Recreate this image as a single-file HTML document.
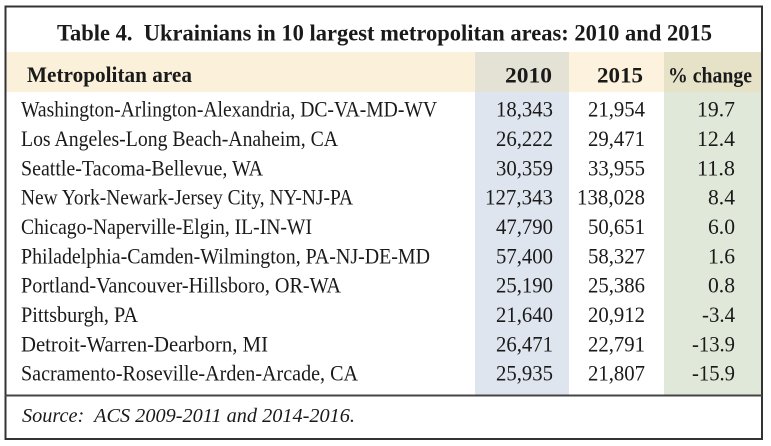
<!DOCTYPE html>
<html>
<head>
<meta charset="utf-8">
<style>
html,body{margin:0;padding:0;background:#fff;}
svg{display:block;}
text{font-family:"Liberation Serif",serif;fill:#1a1a1a;}
.b{font-weight:bold;}
.r{font-size:22px;}
.n{font-size:22px;text-anchor:end;}
</style>
</head>
<body>
<svg width="771" height="446" viewBox="0 0 771 446" xmlns="http://www.w3.org/2000/svg">
  <rect x="0" y="0" width="771" height="446" fill="#fff"/>
  <!-- header band -->
  <rect x="6" y="52" width="756" height="40" fill="#fbf0da"/>
  <rect x="475" y="52" width="94" height="40" fill="#e4e1d5"/>
  <rect x="569" y="52" width="95" height="40" fill="#fcf2de"/>
  <rect x="664" y="52" width="98" height="40" fill="#e5e2c8"/>
  <!-- data column bgs -->
  <rect x="475" y="92" width="94" height="303" fill="#dfe5ee"/>
  <rect x="664" y="92" width="98" height="303" fill="#e0e8d9"/>
  <!-- borders -->
  <rect x="5.5" y="6.5" width="756.5" height="432.5" fill="none" stroke="#333" stroke-width="2"/>
  <line x1="5" y1="395.5" x2="762" y2="395.5" stroke="#444" stroke-width="2"/>

  <!-- title -->
  <text class="b" x="57" y="40.5" font-size="23.5" textLength="655" lengthAdjust="spacingAndGlyphs">Table 4.&#160; Ukrainians in 10 largest metropolitan areas: 2010 and 2015</text>

  <!-- header -->
  <text class="b" x="27" y="82" font-size="22" textLength="165" lengthAdjust="spacingAndGlyphs">Metropolitan area</text>
  <text class="b" x="505" y="82.5" font-size="22" textLength="47" lengthAdjust="spacingAndGlyphs">2010</text>
  <text class="b" x="597" y="82.5" font-size="22" textLength="46" lengthAdjust="spacingAndGlyphs">2015</text>
  <text class="b" x="668" y="82.5" font-size="22" textLength="84" lengthAdjust="spacingAndGlyphs">% change</text>

  <!-- rows -->
  <g>
    <text x="21" y="116.7" class="r" textLength="416" lengthAdjust="spacingAndGlyphs">Washington-Arlington-Alexandria, DC-VA-MD-WV</text>
    <text x="21" y="146" class="r" textLength="317" lengthAdjust="spacingAndGlyphs">Los Angeles-Long Beach-Anaheim, CA</text>
    <text x="21" y="175.3" class="r" textLength="242" lengthAdjust="spacingAndGlyphs">Seattle-Tacoma-Bellevue, WA</text>
    <text x="21" y="204.7" class="r" textLength="332" lengthAdjust="spacingAndGlyphs">New York-Newark-Jersey City, NY-NJ-PA</text>
    <text x="21" y="234" class="r" textLength="291" lengthAdjust="spacingAndGlyphs">Chicago-Naperville-Elgin, IL-IN-WI</text>
    <text x="21" y="263.3" class="r" textLength="409" lengthAdjust="spacingAndGlyphs">Philadelphia-Camden-Wilmington, PA-NJ-DE-MD</text>
    <text x="21" y="292.7" class="r" textLength="320" lengthAdjust="spacingAndGlyphs">Portland-Vancouver-Hillsboro, OR-WA</text>
    <text x="21" y="322" class="r" textLength="117" lengthAdjust="spacingAndGlyphs">Pittsburgh, PA</text>
    <text x="21" y="351.3" class="r" textLength="247" lengthAdjust="spacingAndGlyphs">Detroit-Warren-Dearborn, MI</text>
    <text x="21" y="380.7" class="r" textLength="337" lengthAdjust="spacingAndGlyphs">Sacramento-Roseville-Arden-Arcade, CA</text>
  </g>

  <g>
    <text class="n" x="553" y="116.7" textLength="57" lengthAdjust="spacingAndGlyphs">18,343</text>
    <text class="n" x="553" y="146" textLength="57" lengthAdjust="spacingAndGlyphs">26,222</text>
    <text class="n" x="553" y="175.3" textLength="57" lengthAdjust="spacingAndGlyphs">30,359</text>
    <text class="n" x="553" y="204.7" textLength="68" lengthAdjust="spacingAndGlyphs">127,343</text>
    <text class="n" x="553" y="234" textLength="57" lengthAdjust="spacingAndGlyphs">47,790</text>
    <text class="n" x="553" y="263.3" textLength="57" lengthAdjust="spacingAndGlyphs">57,400</text>
    <text class="n" x="553" y="292.7" textLength="57" lengthAdjust="spacingAndGlyphs">25,190</text>
    <text class="n" x="553" y="322" textLength="57" lengthAdjust="spacingAndGlyphs">21,640</text>
    <text class="n" x="553" y="351.3" textLength="57" lengthAdjust="spacingAndGlyphs">26,471</text>
    <text class="n" x="553" y="380.7" textLength="57" lengthAdjust="spacingAndGlyphs">25,935</text>

    <text class="n" x="645" y="116.7" textLength="57" lengthAdjust="spacingAndGlyphs">21,954</text>
    <text class="n" x="645" y="146" textLength="57" lengthAdjust="spacingAndGlyphs">29,471</text>
    <text class="n" x="645" y="175.3" textLength="57" lengthAdjust="spacingAndGlyphs">33,955</text>
    <text class="n" x="645" y="204.7" textLength="68" lengthAdjust="spacingAndGlyphs">138,028</text>
    <text class="n" x="645" y="234" textLength="57" lengthAdjust="spacingAndGlyphs">50,651</text>
    <text class="n" x="645" y="263.3" textLength="57" lengthAdjust="spacingAndGlyphs">58,327</text>
    <text class="n" x="645" y="292.7" textLength="57" lengthAdjust="spacingAndGlyphs">25,386</text>
    <text class="n" x="645" y="322" textLength="57" lengthAdjust="spacingAndGlyphs">20,912</text>
    <text class="n" x="645" y="351.3" textLength="57" lengthAdjust="spacingAndGlyphs">22,791</text>
    <text class="n" x="645" y="380.7" textLength="57" lengthAdjust="spacingAndGlyphs">21,807</text>

    <text class="n" x="735" y="116.7" textLength="38" lengthAdjust="spacingAndGlyphs">19.7</text>
    <text class="n" x="735" y="146" textLength="38" lengthAdjust="spacingAndGlyphs">12.4</text>
    <text class="n" x="735" y="175.3" textLength="38" lengthAdjust="spacingAndGlyphs">11.8</text>
    <text class="n" x="735" y="204.7" textLength="27" lengthAdjust="spacingAndGlyphs">8.4</text>
    <text class="n" x="735" y="234" textLength="27" lengthAdjust="spacingAndGlyphs">6.0</text>
    <text class="n" x="735" y="263.3" textLength="27" lengthAdjust="spacingAndGlyphs">1.6</text>
    <text class="n" x="735" y="292.7" textLength="27" lengthAdjust="spacingAndGlyphs">0.8</text>
    <text class="n" x="735" y="322" textLength="33" lengthAdjust="spacingAndGlyphs">-3.4</text>
    <text class="n" x="735" y="351.3" textLength="43" lengthAdjust="spacingAndGlyphs">-13.9</text>
    <text class="n" x="735" y="380.7" textLength="43" lengthAdjust="spacingAndGlyphs">-15.9</text>
  </g>

  <!-- source -->
  <text x="22" y="422" font-size="20" font-style="italic" textLength="333" lengthAdjust="spacingAndGlyphs">Source:&#160; ACS 2009-2011 and 2014-2016.</text>
</svg>
</body>
</html>
